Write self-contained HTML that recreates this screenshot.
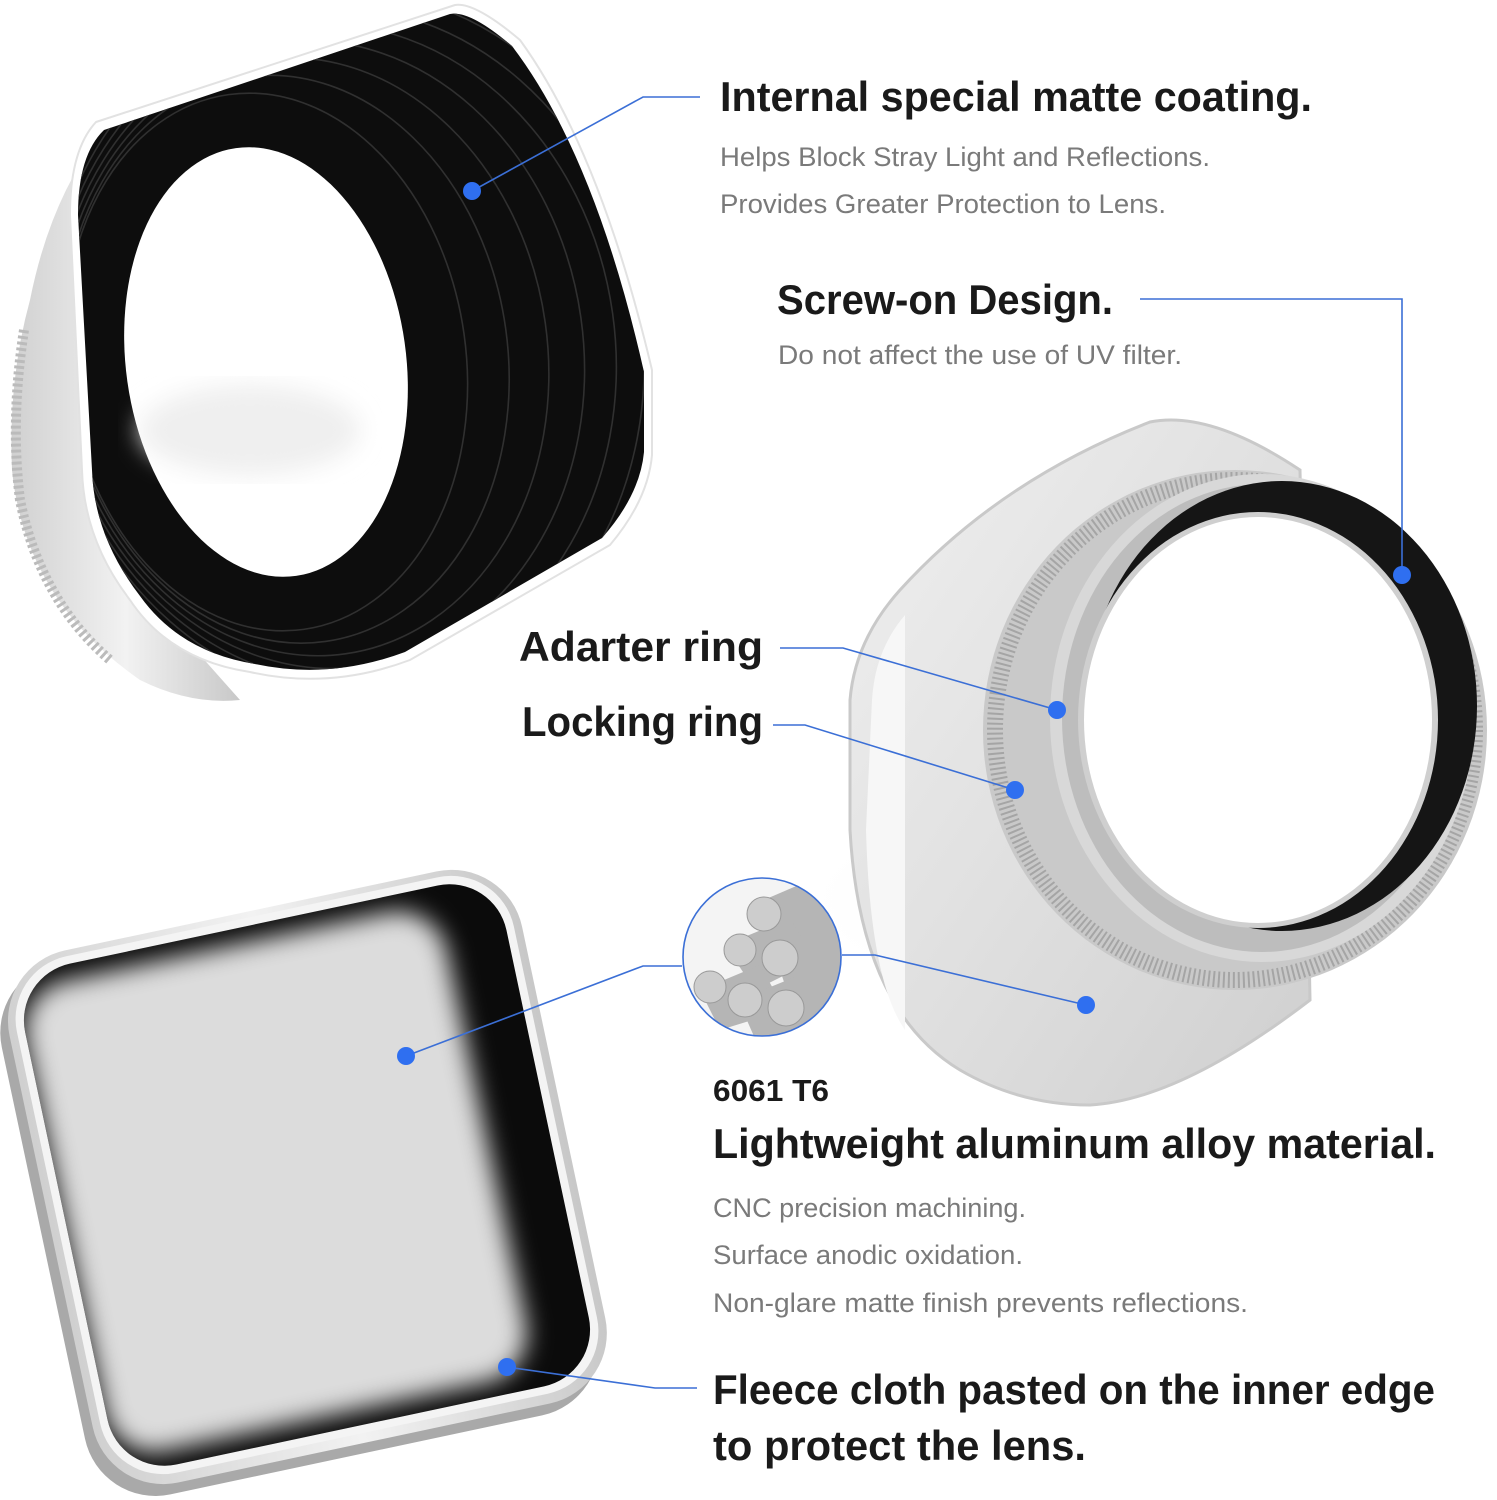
<!DOCTYPE html>
<html><head><meta charset="utf-8"><style>
html,body{margin:0;padding:0;background:#fff;}
svg{display:block;}
.h{font-family:"Liberation Sans","DejaVu Sans",sans-serif;font-weight:bold;fill:#1a1a1a;}
.s{font-family:"Liberation Sans","DejaVu Sans",sans-serif;fill:#7a7a7a;}
.l{stroke:#3b6fd6;stroke-width:1.6;fill:none;}
.d{fill:#2f6ff0;}
</style></head><body>
<svg width="1497" height="1500" viewBox="0 0 1497 1500" xmlns="http://www.w3.org/2000/svg">
<defs>
<linearGradient id="sil" x1="0" y1="0" x2="1" y2="1">
<stop offset="0" stop-color="#f0f0f0"/><stop offset="0.5" stop-color="#e0e0e0"/><stop offset="1" stop-color="#cfcfcf"/></linearGradient>
<linearGradient id="sil2" x1="0" y1="0" x2="1" y2="0">
<stop offset="0" stop-color="#d0d0d0"/><stop offset="0.5" stop-color="#f2f2f2"/><stop offset="1" stop-color="#c8c8c8"/></linearGradient>
<radialGradient id="sh" cx="0.5" cy="0.5" r="0.5">
<stop offset="0" stop-color="#d5d5d5"/><stop offset="1" stop-color="#fff" stop-opacity="0"/></radialGradient>
<filter id="bl"><feGaussianBlur stdDeviation="12"/></filter>
<clipPath id="cc"><circle cx="762" cy="957" r="79"/></clipPath>
<clipPath id="lidin"><rect x="61" y="919" width="492" height="512" rx="58" transform="rotate(-12 307 1175)"/></clipPath>
<clipPath id="hoodin"><path d="M104 130 L450 14 Q470 10 512 46 Q595 155 644 372 L644 452 Q640 495 602 538 L405 652 Q330 680 255 664 Q180 652 140 596 Q94 536 92 470 L78 215 Q78 155 104 130Z"/></clipPath>
</defs>

<path d="M100 135 Q50 200 30 300 Q8 380 12 470 Q25 600 140 680 Q190 705 240 700 L200 655 Q120 600 90 500 L78 210 Z" fill="url(#sil2)"/>
<path d="M24 330 Q10 420 20 500 Q40 600 110 660" fill="none" stroke="#bbb" stroke-width="10" stroke-dasharray="3 3"/>
<path d="M96 122 L455 5 Q475 2 520 40 Q600 150 652 370 L652 455 Q648 500 610 545 L410 660 Q330 690 250 672 Q170 660 130 600 Q84 540 82 470 L70 215 Q70 150 96 122Z" fill="#fff" stroke="#e2e2e2" stroke-width="2"/>
<path d="M104 130 L450 14 Q470 10 512 46 Q595 155 644 372 L644 452 Q640 495 602 538 L405 652 Q330 680 255 664 Q180 652 140 596 Q94 536 92 470 L78 215 Q78 155 104 130Z" fill="#0d0d0d"/>
<g clip-path="url(#hoodin)" stroke="#303030" stroke-width="1.6" fill="none">
<g transform="translate(266 362)">
<ellipse rx="200" ry="270" transform="rotate(-8)"/>
<ellipse rx="222" ry="285" transform="rotate(-8) translate(20 0)"/>
<ellipse rx="244" ry="300" transform="rotate(-8) translate(38 0)"/>
<ellipse rx="264" ry="315" transform="rotate(-8) translate(54 0)"/>
<ellipse rx="282" ry="330" transform="rotate(-8) translate(68 0)"/>
<ellipse rx="298" ry="345" transform="rotate(-8) translate(80 0)"/>
<ellipse rx="312" ry="360" transform="rotate(-8) translate(90 0)"/>
<ellipse rx="324" ry="375" transform="rotate(-8) translate(98 0)"/>
<ellipse rx="334" ry="390" transform="rotate(-8) translate(104 0)"/>
</g>
</g>
<ellipse cx="266" cy="362" rx="140" ry="216" transform="rotate(-8 266 362)" fill="#fff"/>
<ellipse cx="250" cy="430" rx="110" ry="45" fill="#efefef" filter="url(#bl)"/>

<ellipse cx="1100" cy="900" rx="300" ry="110" fill="url(#sh)"/>
<path d="M900 590 Q1000 480 1150 422 Q1210 410 1300 470 L1310 1000 Q1180 1100 1090 1105 Q1020 1105 960 1070 Q860 1010 850 830 L850 700 Q855 640 900 590Z" fill="url(#sil)" stroke="#c9c9c9" stroke-width="3"/>
<path d="M872 700 Q875 650 905 615 L905 1030 Q870 980 866 830Z" fill="#f7f7f7"/>
<ellipse cx="1235" cy="730" rx="252" ry="260" fill="#c9c9c9"/>
<ellipse cx="1235" cy="730" rx="240" ry="250" fill="none" stroke="#a5a5a5" stroke-width="16" stroke-dasharray="2 3"/>
<ellipse cx="1262" cy="718" rx="212" ry="244" fill="#d8d8d8"/>
<ellipse cx="1262" cy="718" rx="200" ry="234" fill="#bdbdbd"/>
<ellipse cx="1282" cy="706" rx="195" ry="225" fill="#151515"/>
<ellipse cx="1258" cy="720" rx="180" ry="208" fill="#cfcfcf"/>
<ellipse cx="1258" cy="720" rx="174" ry="203" fill="#fff"/>

<rect x="35" y="915" width="524" height="544" rx="72" transform="rotate(-12 307 1175)" fill="#a9a9a9"/>
<rect x="45" y="905" width="524" height="544" rx="72" transform="rotate(-12 307 1175)" fill="url(#sil2)"/>
<rect x="53" y="911" width="508" height="528" rx="64" transform="rotate(-12 307 1175)" fill="#f4f4f4"/>
<rect x="61" y="919" width="492" height="512" rx="58" transform="rotate(-12 307 1175)" fill="#0b0b0b"/>
<g clip-path="url(#lidin)">
<rect x="60" y="935" width="430" height="480" rx="50" transform="rotate(-12 307 1175)" fill="#dcdcdc" filter="url(#bl)"/>
</g>

<circle cx="762" cy="957" r="80" fill="#fff"/>
<g clip-path="url(#cc)">
<rect x="680" y="875" width="170" height="170" fill="#f4f4f4"/>
<g fill="#b5b5b5">
<path d="M752 905 L815 878 L850 930 L790 955Z"/><path d="M725 945 L790 918 L815 960 L755 990Z"/>
<path d="M775 955 L850 925 L850 1000 L795 1015Z"/><path d="M700 990 L760 965 L785 1010 L720 1030Z"/>
<path d="M738 1000 L800 975 L825 1025 L760 1050Z"/><path d="M780 1010 L850 985 L850 1050 L795 1050Z"/>
</g>
<g fill="#cdcdcd" stroke="#999">
<circle cx="764" cy="914" r="17"/><circle cx="740" cy="950" r="16"/><circle cx="780" cy="958" r="18"/>
<circle cx="710" cy="987" r="16"/><circle cx="745" cy="1000" r="17"/><circle cx="786" cy="1008" r="18"/>
</g>
</g>
<circle cx="762" cy="957" r="79" fill="none" stroke="#3b6fd6" stroke-width="1.6"/>

<polyline class="l" points="700,97 643,97 472,191"/><circle class="d" cx="472" cy="191" r="9"/>
<polyline class="l" points="1140,299 1402,299 1402,575"/><circle class="d" cx="1402" cy="575" r="9"/>
<polyline class="l" points="780,648 843,648 1057,710"/><circle class="d" cx="1057" cy="710" r="9"/>
<polyline class="l" points="773,725 805,725 1015,790"/><circle class="d" cx="1015" cy="790" r="9"/>
<polyline class="l" points="842,955 875,955 1086,1005"/><circle class="d" cx="1086" cy="1005" r="9"/>
<polyline class="l" points="682,966 643,966 406,1056"/><circle class="d" cx="406" cy="1056" r="9"/>
<polyline class="l" points="697,1388 655,1388 507,1367"/><circle class="d" cx="507" cy="1367" r="9"/>

<text class="h" x="720" y="111" font-size="42" textLength="592" lengthAdjust="spacingAndGlyphs">Internal special matte coating.</text>
<text class="s" x="720" y="166" font-size="27" textLength="490" lengthAdjust="spacingAndGlyphs">Helps Block Stray Light and Reflections.</text>
<text class="s" x="720" y="213" font-size="27" textLength="446" lengthAdjust="spacingAndGlyphs">Provides Greater Protection to Lens.</text>
<text class="h" x="777" y="314" font-size="42" textLength="336" lengthAdjust="spacingAndGlyphs">Screw-on Design.</text>
<text class="s" x="778" y="364" font-size="27" textLength="404" lengthAdjust="spacingAndGlyphs">Do not affect the use of UV filter.</text>
<text class="h" x="519" y="661" font-size="42" textLength="244" lengthAdjust="spacingAndGlyphs">Adarter ring</text>
<text class="h" x="522" y="736" font-size="42" textLength="241" lengthAdjust="spacingAndGlyphs">Locking ring</text>
<text class="h" x="713" y="1101" font-size="31" textLength="116" lengthAdjust="spacingAndGlyphs">6061 T6</text>
<text class="h" x="713" y="1158" font-size="42" textLength="723" lengthAdjust="spacingAndGlyphs">Lightweight aluminum alloy material.</text>
<text class="s" x="713" y="1217" font-size="27" textLength="313" lengthAdjust="spacingAndGlyphs">CNC precision machining.</text>
<text class="s" x="713" y="1264" font-size="27" textLength="310" lengthAdjust="spacingAndGlyphs">Surface anodic oxidation.</text>
<text class="s" x="713" y="1312" font-size="27" textLength="535" lengthAdjust="spacingAndGlyphs">Non-glare matte finish prevents reflections.</text>
<text class="h" x="713" y="1404" font-size="42" textLength="722" lengthAdjust="spacingAndGlyphs">Fleece cloth pasted on the inner edge</text>
<text class="h" x="713" y="1460" font-size="42" textLength="373" lengthAdjust="spacingAndGlyphs">to protect the lens.</text>
</svg>
</body></html>
